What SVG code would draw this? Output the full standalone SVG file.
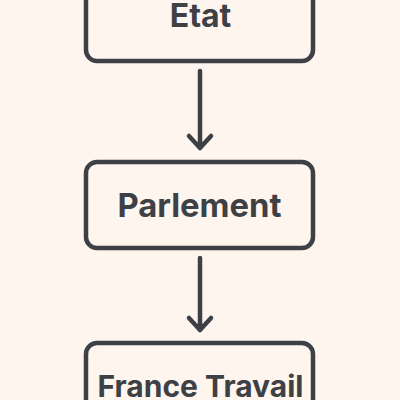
<svg xmlns="http://www.w3.org/2000/svg" width="400" height="400" viewBox="0 0 400 400">
<defs>
<style>
.box{fill:#fdf5ee;stroke:#3d4045;stroke-width:4.5}
.lbl{font-family:Inter,"Liberation Sans",sans-serif;font-weight:700;font-size:32px;fill:#3d4045;text-anchor:middle}
.con{stroke:#3d4045;stroke-width:4.5;fill:none;stroke-linecap:round;stroke-linejoin:round}
</style>
</defs>
<rect width="400" height="400" fill="#fdf5ee"/>
<g id="etat">
<rect class="box" x="86" y="-40" width="227" height="101" rx="11"/>
<text class="lbl" x="200.5" y="27">Etat</text>
</g>
<g id="parlement">
<rect class="box" x="86" y="162" width="227" height="86" rx="11"/>
<text class="lbl" x="199.5" y="217" style="font-size:32.8px">Parlement</text>
</g>
<g id="france-travail">
<rect class="box" x="86" y="343" width="227" height="100" rx="11"/>
<text class="lbl" x="200.5" y="397" style="font-size:30px">France Travail</text>
</g>
<g id="connectors">
<path class="con" d="M200 71 V148 M189 136 L200 148 L211 136"/>
<path class="con" d="M200 258 V330 M189 318 L200 330 L211 318"/>
</g>
</svg>
